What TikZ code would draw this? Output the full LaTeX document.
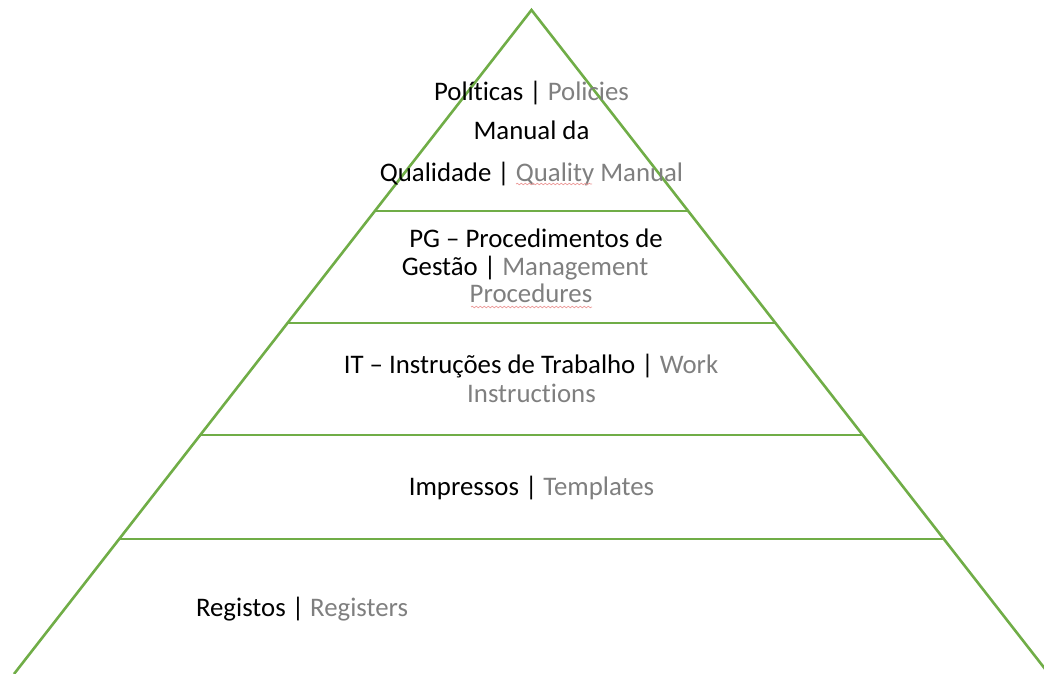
\documentclass[tikz,border=0pt]{standalone}
\usepackage{fontspec}
\setmainfont{Carlito}[Ligatures=NoCommon]
\usetikzlibrary{decorations.pathmorphing}
\definecolor{pyrgreen}{HTML}{70AD47}
\definecolor{entext}{HTML}{7F7F7F}
\definecolor{spellred}{HTML}{EC9A99}
\tikzset{
  edge/.style={draw=pyrgreen, line width=2.6pt},
  lbl/.style={anchor=base, inner sep=0pt, font=\fontsize{26.8}{28}\selectfont, text=black},
  squig/.style={draw=spellred, line width=0.7pt, decorate, decoration={snake, amplitude=0.8pt, segment length=4pt}}
}
\newcommand{\en}[1]{\textcolor{entext}{#1}}
\begin{document}
\begin{tikzpicture}[x=1pt,y=-1pt]
\useasboundingbox (0,0) rectangle (1044,674);
\begin{scope}
\clip (0,0) rectangle (1044,674);
\coordinate (A) at (531.5,10);
\coordinate (BL) at (14,674);
\coordinate (BR) at (1049,674);
\draw[edge, line join=miter] (BL) -- (A) -- (BR);
\foreach \yy/\nm in {211/a,323/b,435/c,539/d}{
  \coordinate (L\nm) at (intersection of A--BL and 0,\yy--1,\yy);
  \coordinate (R\nm) at (intersection of A--BR and 0,\yy--1,\yy);
  \draw[edge] (L\nm) -- (R\nm);
}
\end{scope}
% level 1
\node[lbl] (t1) at (531.5,100.5) {Políticas | \en{Policies}};
\node[lbl] (t2) at (531.5,140) {Manual da};
\node[lbl] (t3) at (531.5,181) {Qualidade | \en{Quality Manual}};
% level 2
\node[lbl] (t4) at (536,247.5) {PG – Procedimentos de};
\node[lbl] (t5) at (525,275) {Gestão | \en{Management}};
\node[lbl] (t6) at (531,302.5) {\en{Procedures}};
% level 3
\node[lbl] (t7) at (531,373) {IT – Instruções de Trabalho | \en{Work}};
\node[lbl] (t8) at (531.5,402.5) {\en{Instructions}};
% level 4
\node[lbl] (t9) at (531.5,495.5) {Impressos | \en{Templates}};
% level 5
\node[lbl] (t10) at (302,616) {Registos | \en{Registers}};
% spell-check marks
\coordinate (q1) at (516,184);
\coordinate (q2) at (592,184);
\coordinate (p1) at (471,307);
\coordinate (p2) at (592,307);
\draw[squig] (q1) -- (q2);
\draw[squig] (p1) -- (p2);
\end{tikzpicture}
\end{document}
